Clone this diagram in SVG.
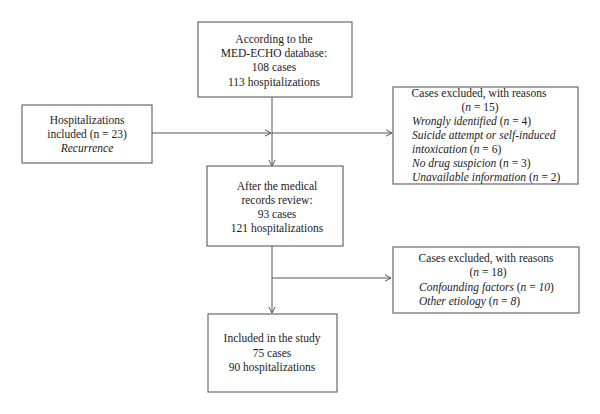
<svg xmlns="http://www.w3.org/2000/svg" width="600" height="414" viewBox="0 0 600 414">
<defs>
<style>
.box{fill:#fff;stroke:#6a6a6a;stroke-width:1.2}
.t{font-family:"Liberation Serif","Times New Roman",serif;font-size:11.5px;fill:#222}
.c{text-anchor:middle}
.i{font-style:italic}
.ln{fill:none;stroke:#555;stroke-width:1}
</style>
<marker id="ar" viewBox="0 0 8 8" refX="7" refY="4" markerWidth="8" markerHeight="8" markerUnits="userSpaceOnUse" orient="auto">
<path d="M1,0.8 L7,4 L1,7.2" fill="none" stroke="#555" stroke-width="1"/>
</marker>
</defs>
<rect width="600" height="414" fill="#fff"/>
<g id="connectors">
<path class="ln" d="M272,97 V166" marker-end="url(#ar)"/>
<path class="ln" d="M152,133 H271" marker-end="url(#ar)"/>
<path class="ln" d="M272,133 H392" marker-end="url(#ar)"/>
<path class="ln" d="M272,246 V313" marker-end="url(#ar)"/>
<path class="ln" d="M272,278 H391" marker-end="url(#ar)"/>
</g>
<g id="n1">
<rect class="box" x="198" y="22" width="154" height="75"/>
<text class="t c" x="274" y="43">According to the</text>
<text class="t c" x="274" y="57">MED-ECHO database:</text>
<text class="t c" x="274" y="71">108 cases</text>
<text class="t c" x="274" y="86">113 hospitalizations</text>
</g>
<g id="n2">
<rect class="box" x="22" y="105" width="130" height="58"/>
<text class="t c" x="87" y="124">Hospitalizations</text>
<text class="t c" x="87" y="138">included (n = 23)</text>
<text class="t c i" x="87" y="152">Recurrence</text>
</g>
<g id="n3">
<rect class="box" x="393" y="87" width="185" height="97"/>
<text class="t c" x="479" y="97">Cases excluded, with reasons</text>
<text class="t c" x="480" y="111">(<tspan class="i">n</tspan> = 15)</text>
<text class="t" x="412" y="125"><tspan class="i">Wrongly identified</tspan> (<tspan class="i">n</tspan> = 4)</text>
<text class="t i" x="412" y="139">Suicide attempt or self-induced</text>
<text class="t" x="412" y="153"><tspan class="i">intoxication</tspan> (<tspan class="i">n</tspan> = 6)</text>
<text class="t" x="412" y="167"><tspan class="i">No drug suspicion</tspan> (<tspan class="i">n</tspan> = 3)</text>
<text class="t" x="412" y="181"><tspan class="i">Unavailable information</tspan> (<tspan class="i">n</tspan> = 2)</text>
</g>
<g id="n4">
<rect class="box" x="207" y="166" width="136" height="80"/>
<text class="t c" x="277" y="190">After the medical</text>
<text class="t c" x="277" y="204">records review:</text>
<text class="t c" x="277" y="218">93 cases</text>
<text class="t c" x="277" y="232">121 hospitalizations</text>
</g>
<g id="n5">
<rect class="box" x="393" y="247" width="186" height="66"/>
<text class="t c" x="486" y="262">Cases excluded, with reasons</text>
<text class="t c" x="488" y="276">(<tspan class="i">n</tspan> = 18)</text>
<text class="t" x="419" y="291"><tspan class="i">Confounding factors</tspan> (<tspan class="i">n</tspan> = <tspan class="i">10</tspan>)</text>
<text class="t" x="419" y="305"><tspan class="i">Other etiology</tspan> (<tspan class="i">n</tspan> = <tspan class="i">8</tspan>)</text>
</g>
<g id="n6">
<rect class="box" x="208" y="314" width="129" height="78"/>
<text class="t c" x="272" y="342">Included in the study</text>
<text class="t c" x="272" y="357">75 cases</text>
<text class="t c" x="272" y="371">90 hospitalizations</text>
</g>
</svg>
